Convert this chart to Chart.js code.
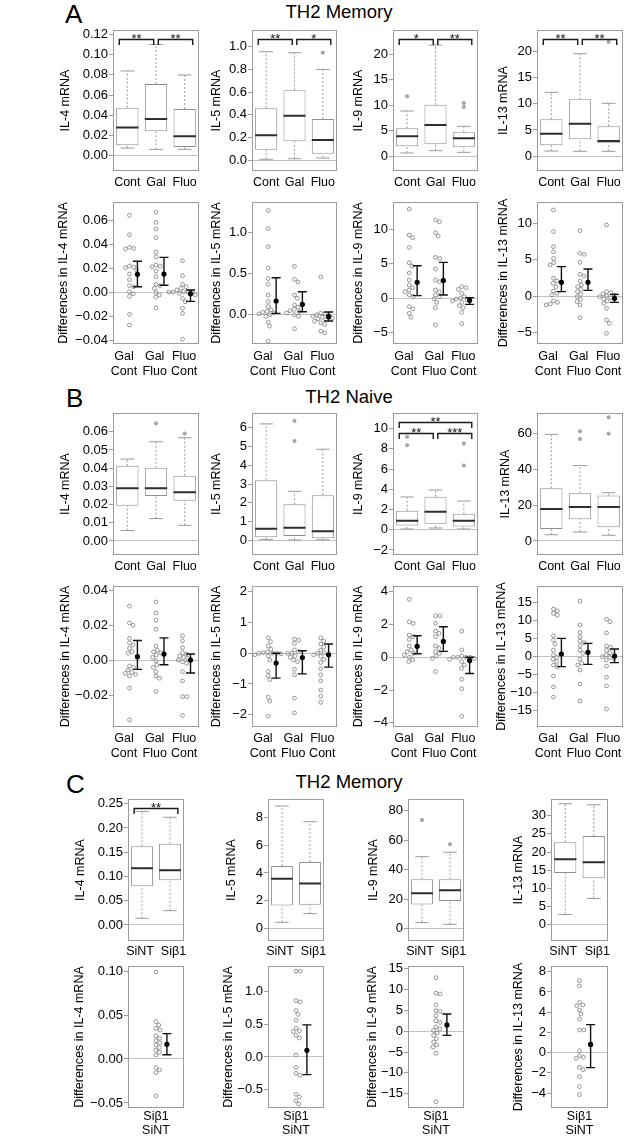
<!DOCTYPE html>
<html><head><meta charset="utf-8">
<script src="https://cdn.jsdelivr.net/npm/chart.js@4.4.1/dist/chart.umd.min.js"></script>
<style>
html,body{margin:0;padding:0;background:#fff;}
#fig{position:relative;width:640px;height:1140px;overflow:hidden;background:#fff;font-family:"Liberation Sans",Arial,Helvetica,sans-serif;}
.hd{position:absolute;line-height:1;white-space:nowrap;color:#000;}
.pn{position:absolute;}
</style></head><body><div id="fig"></div>
<script>
// ---------------- categories ----------------
const boxGroupsAB = ['Cont', 'Gal', 'Fluo'];
const boxGroupsC = ['SiNT', 'Si\u03b21'];
const diffGroupsAB = [['Gal', 'Cont'], ['Gal', 'Fluo'], ['Fluo', 'Cont']];
const diffGroupsC = [['Si\u03b21', 'SiNT']];

// ---------------- box plot stats: [whiskerLow, Q1, median, Q3, whiskerHigh] per group ----------------
const A_IL4 = [[0.0076, 0.0103, 0.028, 0.0475, 0.0838], [0.0063, 0.0241, 0.0363, 0.0709, 0.110], [0.0063, 0.0086, 0.0192, 0.0462, 0.0798]];
const A_IL5 = [[0.009, 0.093, 0.22, 0.458, 0.956], [0.014, 0.167, 0.393, 0.616, 0.947], [0.02, 0.058, 0.179, 0.364, 0.80]];
const A_IL9 = [[0.65, 1.96, 3.92, 5.49, 8.88], [1.1, 2.35, 6.14, 10.1, 21.8], [0.78, 1.76, 3.53, 4.7, 5.88]];
const A_IL13 = [[1.0, 2.09, 4.29, 7.02, 12.15], [0.95, 3.23, 6.19, 10.82, 19.47], [0.95, 2.47, 2.9, 5.69, 10.06]];
const B_IL4 = [[0.0057, 0.0194, 0.0289, 0.0413, 0.045], [0.0123, 0.0247, 0.0289, 0.0402, 0.0545], [0.0086, 0.0221, 0.0267, 0.0359, 0.0567]];
const B_IL5 = [[0.05, 0.16, 0.62, 3.2, 6.2], [0.02, 0.23, 0.67, 1.92, 2.61], [0.03, 0.11, 0.48, 2.4, 4.85]];
const B_IL9 = [[0.07, 0.43, 0.89, 1.88, 3.24], [0.17, 0.6, 1.79, 3.27, 3.93], [0.07, 0.33, 0.89, 1.59, 2.84]];
const B_IL13 = [[3.5, 6.7, 17.8, 29.35, 59.4], [5.0, 12.1, 18.9, 26.6, 42], [3.2, 7.6, 18.9, 25.3, 26.9]];
const C_IL4 = [[0.0137, 0.0797, 0.117, 0.162, 0.234], [0.0295, 0.092, 0.1126, 0.1676, 0.222]];
const C_IL5 = [[0.43, 1.64, 3.59, 4.51, 8.84], [1.06, 1.71, 3.23, 4.8, 7.71]];
const C_IL9 = [[4.1, 16.3, 24.0, 33.4, 48.8], [2.9, 18.8, 26.0, 33.4, 51.8]];
const C_IL13 = [[2.8, 14.2, 18.0, 22.7, 33.3], [7.2, 12.8, 17.2, 24.4, 33.0]];

// outliers: [group, value]
const A_IL5_out = [[3, 0.947]];
const A_IL9_out = [[1, 11.76], [3, 10.45], [3, 9.67]];
const A_IL13_out = [[3, 21.75]];
const B_IL4_out = [[2, 0.0646], [3, 0.059]];
const B_IL5_out = [[2, 6.36], [2, 5.29]];
const B_IL9_out = [[1, 9.19], [1, 8.36], [3, 8.53], [3, 6.35]];
const B_IL13_out = [[2, 61.1], [2, 56.8], [3, 68.9], [3, 59.8]];
const C_IL9_out = [[1, 73.7], [2, 57.2]];

// significance: [fromGroup, toGroup, label, tier]
const A_IL4_sig = [[1, 2, '**', 0], [2, 3, '**', 0]];
const A_IL5_sig = [[1, 2, '**', 0], [2, 3, '*', 0]];
const A_IL9_sig = [[1, 2, '*', 0], [2, 3, '**', 0]];
const A_IL13_sig = [[1, 2, '**', 0], [2, 3, '**', 0]];
const B_IL9_sig = [[1, 3, '**', 0], [1, 2, '**', 1], [2, 3, '***', 1]];
const C_IL4_sig = [[1, 2, '**', 0]];

// ---------------- paired differences (points per group), means and 95% CI ----------------
const A_dIL4 = [
  [0.0639, 0.0478, 0.0372, 0.0364, 0.0358, 0.0217, 0.0208, 0.0203, 0.0183, 0.015, 0.0103, 0.0053, 0.0044, 0.0003, -0.0014, -0.0036, -0.0186, -0.0275],
  [0.0664, 0.058, 0.0525, 0.0453, 0.0331, 0.0294, 0.0225, 0.0217, 0.0211, 0.0175, 0.0128, 0.0064, 0.0053, 0.0031, -0.0003, -0.0025, -0.0042, -0.0131],
  [0.0261, 0.0136, 0.0064, 0.0044, 0.0031, 0.0017, 0.0003, 0, 0, 0, 0, -0.0011, -0.0025, -0.0053, -0.0081, -0.0136, -0.0178, -0.0392]];
const A_dIL4_mean = [0.0148, 0.015, -0.0014], A_dIL4_lo = [0.0044, 0.0056, -0.0078], A_dIL4_hi = [0.0256, 0.0289, 0.0017];

const A_dIL5 = [
  [1.27, 1.05, 0.83, 0.57, 0.44, 0.37, 0.24, 0.16, 0.10, 0.06, 0.04, 0.03, 0.02, 0.01, 0.0, -0.02, -0.09, -0.14, -0.32],
  [0.59, 0.43, 0.40, 0.24, 0.2, 0.12, 0.09, 0.065, 0.05, 0.04, 0.02, 0.0, -0.02, -0.17],
  [0.46, 0.02, 0.01, 0.0, -0.01, -0.02, -0.03, -0.04, -0.05, -0.06, -0.08, -0.1, -0.12, -0.2, -0.22]];
const A_dIL5_mean = [0.167, 0.126, -0.024], A_dIL5_lo = [0.016, 0.037, -0.077], A_dIL5_hi = [0.451, 0.28, 0.033];

const A_dIL9 = [
  [12.93, 9.17, 8.78, 7.38, 5.16, 4.68, 3.67, 2.65, 1.93, 1.54, 1.2, 0.96, 0.48, 0.29, -1.2, -1.54, -2.17, -2.75],
  [11.34, 11.1, 9.5, 9.02, 5.93, 5.79, 4.24, 2.65, 2.41, 1.2, 0.96, 0.48, 0.24, -0.1, -0.58, -1.35, -3.86],
  [1.69, 1.54, 1.3, 0.72, 0.24, 0, -0.1, -0.24, -0.39, -0.58, -1.06, -1.35, -2.03, -3.67]];
const A_dIL9_mean = [2.32, 2.6, -0.29], A_dIL9_lo = [0.39, 0.48, -0.87], A_dIL9_hi = [4.73, 5.21, 0.1];

const A_dIL13 = [
  [11.83, 8.85, 6.79, 6.1, 5.18, 4.59, 4.27, 2.43, 2.06, 1.74, 1.28, 0.69, 0.37, 0.14, -0.69, -0.87, -1.1, -1.24],
  [8.99, 5.87, 5.73, 4.63, 2.98, 2.75, 2.06, 1.51, 1.28, 0.92, 0.6, 0.23, -0.09, -0.46, -0.78, -1.24, -2.98],
  [9.77, 0.6, 0.46, 0.28, 0.14, 0, -0.09, -0.23, -0.41, -0.69, -1.01, -1.7, -3.3, -3.76, -5.14]];
const A_dIL13_mean = [1.88, 1.88, -0.32], A_dIL13_lo = [0.6, 0.78, -0.87], A_dIL13_hi = [4.04, 3.72, 0.23];

const B_dIL4 = [
  [0.0308, 0.0213, 0.02, 0.0125, 0.01, 0.0087, 0.0068, 0.0049, 0.004, -0.0032, -0.004, -0.0055, -0.0068, -0.0074, -0.0079, -0.0089, -0.0158, -0.0338],
  [0.0332, 0.027, 0.0228, 0.0177, 0.0081, 0.0058, 0.0049, 0.0043, 0.003, 0.0017, -0.0002, -0.0026, -0.004, -0.0064, -0.0089, -0.0102, -0.0177],
  [0.014, 0.0111, 0.0072, 0.0043, 0.0036, 0.0025, 0.0017, 0.0011, 0.0002, -0.0008, -0.0017, -0.0064, -0.0117, -0.0206, -0.0206, -0.0313]];
const B_dIL4_mean = [0.0021, 0.0036, 0.0002], B_dIL4_lo = [-0.0051, -0.0025, -0.0072], B_dIL4_hi = [0.0113, 0.0128, 0.0036];

const B_dIL5 = [
  [0.5, 0.38, 0.24, 0.13, 0.05, 0.02, 0, 0, 0, -0.02, -0.05, -0.09, -0.22, -0.59, -0.73, -0.86, -1.43, -1.56, -2.05],
  [0.46, 0.43, 0.32, 0.11, 0.05, 0, 0, -0.09, -0.13, -0.22, -0.27, -0.52, -0.7, -1.46, -1.94],
  [0.5, 0.4, 0.3, 0.2, 0.1, 0.02, 0, -0.05, -0.1, -0.2, -0.3, -0.5, -0.7, -0.9, -1.2, -1.4, -1.6]];
const B_dIL5_mean = [-0.32, -0.14, -0.05], B_dIL5_lo = [-0.81, -0.67, -0.45], B_dIL5_hi = [0.0, 0.08, 0.3];

const B_dIL9 = [
  [3.54, 2.17, 2.07, 1.36, 1.26, 1.09, 0.69, 0.45, 0.34, 0.24, 0.14, 0, -0.16, -0.26],
  [2.53, 2.53, 2.07, 1.6, 1.46, 1.26, 0.69, 0.55, 0.34, 0.24, 0.08, -0.06, -0.87],
  [1.6, 0.45, 0.08, 0, 0, 0, 0, -0.06, -0.12, -0.26, -0.47, -0.67, -1.34, -1.92, -3.6]];
const B_dIL9_mean = [0.67, 0.97, -0.2], B_dIL9_lo = [0.22, 0.36, -0.99], B_dIL9_hi = [1.32, 1.86, 0];

const B_dIL13 = [
  [13.2, 12.7, 12, 11.5, 5.8, 4.6, 3.5, 1.8, 0.5, -0.2, -0.7, -1.4, -2.3, -2.8, -5.4, -8.4, -11.2],
  [15.4, 8.8, 6.7, 5.5, 4.3, 3.9, 3.0, 1.8, 0.9, -0.7, -1.8, -2.3, -3.7, -7.6, -12.3],
  [10.4, 9.7, 6.6, 3.0, 2.6, 1.8, 1.1, 0.5, 0, -0.2, -0.5, -0.9, -2.6, -5.7, -8.1, -14.5]];
const B_dIL13_mean = [0.74, 1.2, 0.18], B_dIL13_lo = [-2.77, -2.12, -1.66], B_dIL13_hi = [5.08, 3.69, 2.12];

const C_dIL4 = [[0.0989, 0.0424, 0.0386, 0.0348, 0.033, 0.0261, 0.0235, 0.0208, 0.0186, 0.0159, 0.0129, 0.0102, 0.0076, 0.0045, -0.0098, -0.0125, -0.0155, -0.042]];
const C_dIL4_mean = [0.0167], C_dIL4_lo = [0.0049], C_dIL4_hi = [0.0288];
const C_dIL5 = [[1.31, 1.31, 0.86, 0.84, 0.71, 0.65, 0.56, 0.44, 0.40, 0.39, 0.33, 0.29, 0.03, -0.16, -0.25, -0.28, -0.57, -0.61, -0.67, -0.72]];
const C_dIL5_mean = [0.102], C_dIL5_lo = [-0.27], C_dIL5_hi = [0.49];
const C_dIL9 = [[12.8, 9.1, 8.9, 6.3, 4.9, 4.7, 3.7, 2.5, 2.1, 1.0, 0.55, 0.16, -0.4, -1.0, -1.8, -2.6, -3.3, -3.8, -5.3, -16.9]];
const C_dIL9_mean = [1.5], C_dIL9_lo = [-1.0], C_dIL9_hi = [4.1];
const C_dIL13 = [[7.12, 6.59, 4.98, 4.71, 4.65, 4.22, 3.82, 3.33, 2.24, 2.24, 0.2, -0.3, -0.46, -0.56, -1.45, -1.68, -2.37, -3.36, -4.15]];
const C_dIL13_mean = [0.82], C_dIL13_lo = [-1.48], C_dIL13_hi = [2.77];

// ---------------- tick values ----------------
const t_A_IL4 = [0, 0.02, 0.04, 0.06, 0.08, 0.10, 0.12];
const t_A_IL5 = [0, 0.2, 0.4, 0.6, 0.8, 1.0];
const t_A_IL9 = [0, 5, 10, 15, 20];
const t_A_IL13 = [0, 5, 10, 15, 20];
const t_A_dIL4 = [-0.04, -0.02, 0, 0.02, 0.04, 0.06];
const t_A_dIL5 = [0, 0.5, 1.0];
const t_A_dIL9 = [-5, 0, 5, 10];
const t_A_dIL13 = [-5, 0, 5, 10];
const t_B_IL4 = [0, 0.01, 0.02, 0.03, 0.04, 0.05, 0.06];
const t_B_IL5 = [0, 1, 2, 3, 4, 5, 6];
const t_B_IL9 = [-2, 0, 2, 4, 6, 8, 10];
const t_B_IL13 = [0, 20, 40, 60];
const t_B_dIL4 = [-0.02, 0, 0.02, 0.04];
const t_B_dIL5 = [-2, -1, 0, 1, 2];
const t_B_dIL9 = [-4, -2, 0, 2, 4];
const t_B_dIL13 = [-15, -10, -5, 0, 5, 10, 15];
const t_C_IL4 = [0, 0.05, 0.10, 0.15, 0.20, 0.25];
const t_C_IL5 = [0, 2, 4, 6, 8];
const t_C_IL9 = [0, 20, 40, 60, 80];
const t_C_IL13 = [0, 5, 10, 15, 20, 25, 30];
const t_C_dIL4 = [-0.05, 0, 0.05, 0.10];
const t_C_dIL5 = [-0.5, 0, 0.5, 1.0];
const t_C_dIL9 = [-15, -10, -5, 0, 5, 10, 15];
const t_C_dIL13 = [-4, -2, 0, 2, 4, 6, 8];

// ---------------- layout & style ----------------
const FONT = '"Liberation Sans", Arial, Helvetica, sans-serif';
Chart.defaults.font.family = FONT;
Chart.defaults.font.size = 12.5;
Chart.defaults.color = '#000';
const FRAME = '#9c9c9c', BOXC = '#8e8e8e', WHC = '#9a9a9a', MEDC = '#2e2e2e', ZEROC = '#c2c2c2', DOTC = '#8a8a8a';
const L0 = 92, T0 = 12, R0 = 8, B0 = 46;
const CAP = 0.24, HALF = 0.39, MEANOFF = 0.3;
const TICKFONT = 13, TITLEFONT = 12.5;

// x positions of the category labels on each kind of axis
const labelPos3box = [1, 2, 3];
const labelPos2box = [0.93, 2.125];
const labelPos3dot = [0.795, 1.95, 3.06];
const labelPos1dot = [1];

const rows = {
  Abox: {top: 30, h: 141, pad: 4, lh: 1.2}, Adot: {top: 202, h: 142, pad: 5, lh: 1.2},
  Bbox: {top: 413, h: 142, pad: 4, lh: 1.2}, Bdot: {top: 586, h: 141, pad: 4, lh: 1.2},
  Cbox: {top: 799, h: 142, pad: 3, lh: 1.2}, Cdot: {top: 966, h: 142, pad: 2, lh: 1.12}
};
const colsAB = [[113, 86], [252, 85], [393, 85], [537, 86]];
const colsC = [[128, 56], [268, 56], [408, 56], [551, 57]];

const panels = [
  {kind: 'box', row: 'Abox', col: colsAB[0], tx: 46, title: 'IL-4 mRNA', labels: boxGroupsAB, stats: A_IL4, out: [], range: [-0.0151, 0.1243], ticks: t_A_IL4, dec: 2, sig: A_IL4_sig},
  {kind: 'box', row: 'Abox', col: colsAB[1], tx: 34, title: 'IL-5 mRNA', labels: boxGroupsAB, stats: A_IL5, out: A_IL5_out, range: [-0.094, 1.147], ticks: t_A_IL5, dec: 1, sig: A_IL5_sig},
  {kind: 'box', row: 'Abox', col: colsAB[2], tx: 33, title: 'IL-9 mRNA', labels: boxGroupsAB, stats: A_IL9, out: A_IL9_out, range: [-2.88, 24.76], ticks: t_A_IL9, dec: 0, sig: A_IL9_sig},
  {kind: 'box', row: 'Abox', col: colsAB[3], tx: 32, title: 'IL-13 mRNA', labels: boxGroupsAB, stats: A_IL13, out: A_IL13_out, range: [-2.79, 23.99], ticks: t_A_IL13, dec: 0, sig: A_IL13_sig},
  {kind: 'dot', row: 'Adot', col: colsAB[0], tx: 48, title: 'Differences in IL-4 mRNA', labels: diffGroupsAB, pts: A_dIL4, mean: A_dIL4_mean, lo: A_dIL4_lo, hi: A_dIL4_hi, range: [-0.0433, 0.075], ticks: t_A_dIL4, dec: 2},
  {kind: 'dot', row: 'Adot', col: colsAB[1], tx: 34, title: 'Differences in IL-5 mRNA', labels: diffGroupsAB, pts: A_dIL5, mean: A_dIL5_mean, lo: A_dIL5_lo, hi: A_dIL5_hi, range: [-0.357, 1.374], ticks: t_A_dIL5, dec: 1},
  {kind: 'dot', row: 'Adot', col: colsAB[2], tx: 33, title: 'Differences in IL-9 mRNA', labels: diffGroupsAB, pts: A_dIL9, mean: A_dIL9_mean, lo: A_dIL9_lo, hi: A_dIL9_hi, range: [-6.62, 13.96], ticks: t_A_dIL9, dec: 0},
  {kind: 'dot', row: 'Adot', col: colsAB[3], tx: 32, title: 'Differences in IL-13 mRNA', labels: diffGroupsAB, pts: A_dIL13, mean: A_dIL13_mean, lo: A_dIL13_lo, hi: A_dIL13_hi, range: [-6.6, 12.93], ticks: t_A_dIL13, dec: 0},
  {kind: 'box', row: 'Bbox', col: colsAB[0], tx: 46, title: 'IL-4 mRNA', labels: boxGroupsAB, stats: B_IL4, out: B_IL4_out, range: [-0.0077, 0.0703], ticks: t_B_IL4, dec: 2},
  {kind: 'box', row: 'Bbox', col: colsAB[1], tx: 34, title: 'IL-5 mRNA', labels: boxGroupsAB, stats: B_IL5, out: B_IL5_out, range: [-0.78, 6.78], ticks: t_B_IL5, dec: 0},
  {kind: 'box', row: 'Bbox', col: colsAB[2], tx: 33, title: 'IL-9 mRNA', labels: boxGroupsAB, stats: B_IL9, out: B_IL9_out, range: [-2.5, 11.55], ticks: t_B_IL9, dec: 0, sig: B_IL9_sig},
  {kind: 'box', row: 'Bbox', col: colsAB[3], tx: 30, title: 'IL-13 mRNA', labels: boxGroupsAB, stats: B_IL13, out: B_IL13_out, range: [-7.8, 71.3], ticks: t_B_IL13, dec: 0},
  {kind: 'dot', row: 'Bdot', col: colsAB[0], tx: 46, title: 'Differences in IL-4 mRNA', labels: diffGroupsAB, pts: B_dIL4, mean: B_dIL4_mean, lo: B_dIL4_lo, hi: B_dIL4_hi, range: [-0.0379, 0.0423], ticks: t_B_dIL4, dec: 2},
  {kind: 'dot', row: 'Bdot', col: colsAB[1], tx: 34, title: 'Differences in IL-5 mRNA', labels: diffGroupsAB, pts: B_dIL5, mean: B_dIL5_mean, lo: B_dIL5_lo, hi: B_dIL5_hi, range: [-2.4, 2.19], ticks: t_B_dIL5, dec: 0},
  {kind: 'dot', row: 'Bdot', col: colsAB[2], tx: 33, title: 'Differences in IL-9 mRNA', labels: diffGroupsAB, pts: B_dIL9, mean: B_dIL9_mean, lo: B_dIL9_lo, hi: B_dIL9_hi, range: [-4.25, 4.35], ticks: t_B_dIL9, dec: 0},
  {kind: 'dot', row: 'Bdot', col: colsAB[3], tx: 32, title: 'Differences in IL-13 mRNA', labels: diffGroupsAB, pts: B_dIL13, mean: B_dIL13_mean, lo: B_dIL13_lo, hi: B_dIL13_hi, range: [-19.5, 19.6], ticks: t_B_dIL13, dec: 0},
  {kind: 'box', row: 'Cbox', col: colsC[0], tx: 46, title: 'IL-4 mRNA', labels: boxGroupsC, stats: C_IL4, out: [], range: [-0.033, 0.2596], ticks: t_C_IL4, dec: 2, sig: C_IL4_sig},
  {kind: 'box', row: 'Cbox', col: colsC[1], tx: 35, title: 'IL-5 mRNA', labels: boxGroupsC, stats: C_IL5, out: [], range: [-0.92, 9.35], ticks: t_C_IL5, dec: 0},
  {kind: 'box', row: 'Cbox', col: colsC[2], tx: 33, title: 'IL-9 mRNA', labels: boxGroupsC, stats: C_IL9, out: C_IL9_out, range: [-8.4, 87.9], ticks: t_C_IL9, dec: 0},
  {kind: 'box', row: 'Cbox', col: colsC[3], tx: 31, title: 'IL-13 mRNA', labels: boxGroupsC, stats: C_IL13, out: [], range: [-4.5, 34.6], ticks: t_C_IL13, dec: 0},
  {kind: 'dot', row: 'Cdot', col: colsC[0], tx: 47, title: 'Differences in IL-4 mRNA', labels: diffGroupsC, pts: C_dIL4, mean: C_dIL4_mean, lo: C_dIL4_lo, hi: C_dIL4_hi, range: [-0.0557, 0.1057], ticks: t_C_dIL4, dec: 2},
  {kind: 'dot', row: 'Cdot', col: colsC[1], tx: 35, title: 'Differences in IL-5 mRNA', labels: diffGroupsC, pts: C_dIL5, mean: C_dIL5_mean, lo: C_dIL5_lo, hi: C_dIL5_hi, range: [-0.78, 1.39], ticks: t_C_dIL5, dec: 1},
  {kind: 'dot', row: 'Cdot', col: colsC[2], tx: 33, title: 'Differences in IL-9 mRNA', labels: diffGroupsC, pts: C_dIL9, mean: C_dIL9_mean, lo: C_dIL9_lo, hi: C_dIL9_hi, range: [-18.4, 15.6], ticks: t_C_dIL9, dec: 0},
  {kind: 'dot', row: 'Cdot', col: colsC[3], tx: 31, title: 'Differences in IL-13 mRNA', labels: diffGroupsC, pts: C_dIL13, mean: C_dIL13_mean, lo: C_dIL13_lo, hi: C_dIL13_hi, range: [-5.47, 8.57], ticks: t_C_dIL13, dec: 0}
];

const headings = [
  {text: 'A', left: 65, top: 1, size: 26},
  {text: 'TH2 Memory', cx: 339, top: 2.6, size: 18.5},
  {text: 'B', left: 66, top: 384.7, size: 26},
  {text: 'TH2 Naive', cx: 349, top: 387.6, size: 18.5},
  {text: 'C', left: 66, top: 770.7, size: 26},
  {text: 'TH2 Memory', cx: 349, top: 772.6, size: 18.5}
];

// ---------------- helpers ----------------
function fmt(v, dec) {
  const s = Math.abs(v).toFixed(dec);
  return (v < 0 && Number(s) !== 0 ? '\u2212' : '') + s;
}

// beeswarm offsets (px) so that circles do not overlap
function swarm(vals, pxY, D) {
  const order = vals.map((v, i) => i).sort((a, b) => vals[b] - vals[a]);
  const placed = [], out = new Array(vals.length);
  for (const i of order) {
    const y = vals[i] * pxY;
    const forb = [];
    for (const p of placed) {
      const dy = Math.abs(p.y - y);
      if (dy < D) { const dx = Math.sqrt(D * D - dy * dy); forb.push([p.x - dx, p.x + dx]); }
    }
    const cands = [0];
    forb.forEach(f => cands.push(f[0], f[1]));
    cands.sort((a, b) => (Math.abs(a) - Math.abs(b)) || (b - a));
    let x = 0;
    for (const c of cands) {
      if (forb.every(f => c <= f[0] + 1e-6 || c >= f[1] - 1e-6)) { x = c; break; }
    }
    placed.push({x, y});
    out[i] = x;
  }
  return out;
}

const framePlugin = {
  id: 'frame',
  afterDraw(chart) {
    const a = chart.chartArea, c = chart.ctx;
    c.save();
    c.strokeStyle = FRAME; c.lineWidth = 1;
    c.strokeRect(Math.round(a.left) + 0.5, Math.round(a.top) + 0.5, Math.round(a.right - a.left) - 1, Math.round(a.bottom - a.top) - 1);
    c.restore();
  }
};

function sigPlugin(items, n) {
  return {
    id: 'sig',
    afterDatasetsDraw(chart) {
      const xs = chart.scales.x, a = chart.chartArea, c = chart.ctx;
      c.save();
      c.strokeStyle = '#1a1a1a'; c.fillStyle = '#111'; c.lineWidth = 1.4;
      c.font = '13px ' + FONT; c.textAlign = 'center'; c.textBaseline = 'alphabetic';
      items.forEach(([g1, g2, txt, tier]) => {
        const x1 = xs.getPixelForValue(g1 === 1 ? g1 - 0.28 : g1 + 0.08);
        const x2 = xs.getPixelForValue(g2 === n ? g2 + 0.28 : g2 - 0.08);
        const y = Math.round(a.top + 8.5 + tier * 11) + 0.5;
        c.beginPath();
        c.moveTo(x1, y + 5.5); c.lineTo(x1, y); c.lineTo(x2, y); c.lineTo(x2, y + 5.5);
        c.stroke();
        c.fillText(txt, (x1 + x2) / 2, y + 3.5);
      });
      c.restore();
    }
  };
}

function boxDatasets(p) {
  const whisk = [], caps = [], meds = [], boxes = [], outs = [];
  p.stats.forEach((s, i) => {
    const x = i + 1, [lo, q1, md, q3, hi] = s;
    whisk.push({x, y: lo}, {x, y: q1}, {x, y: null}, {x, y: q3}, {x, y: hi}, {x, y: null});
    caps.push({x: x - CAP, y: lo}, {x: x + CAP, y: lo}, {x, y: null}, {x: x - CAP, y: hi}, {x: x + CAP, y: hi}, {x, y: null});
    meds.push({x: x - HALF, y: md}, {x: x + HALF, y: md}, {x, y: null});
    boxes.push({x, y: [q1, q3]});
  });
  (p.out || []).forEach(([g, v]) => outs.push({x: g, y: v}));
  return [
    {type: 'scatter', data: outs, pointRadius: 1.7, pointBackgroundColor: '#a5a5a5', pointBorderColor: '#999', pointBorderWidth: 0.6},
    {type: 'line', data: meds, borderColor: MEDC, borderWidth: 2, pointRadius: 0, spanGaps: false, borderCapStyle: 'butt'},
    {type: 'line', data: caps, borderColor: WHC, borderWidth: 1, pointRadius: 0, spanGaps: false},
    {type: 'bar', data: boxes, backgroundColor: '#fff', borderColor: BOXC, borderWidth: 1, borderSkipped: false, barPercentage: 0.78, categoryPercentage: 1},
    {type: 'line', data: whisk, borderColor: WHC, borderWidth: 1, borderDash: [2, 2], pointRadius: 0, spanGaps: false}
  ];
}

function dotDatasets(p, xmin, xmax, h) {
  const pxX = p.col[1] / (xmax - xmin), pxY = h / (p.range[1] - p.range[0]);
  const pts = [];
  p.pts.forEach((vals, gi) => {
    const off = swarm(vals, pxY, 4.3);
    vals.forEach((v, k) => pts.push({x: gi + 1 + off[k] / pxX, y: v}));
  });
  const cap = 4.5 / pxX;
  const means = [], eb = [];
  p.mean.forEach((m, gi) => {
    const x = gi + 1 + MEANOFF, lo = p.lo[gi], hi = p.hi[gi];
    means.push({x, y: m});
    eb.push({x, y: lo}, {x, y: hi}, {x, y: null},
            {x: x - cap, y: hi}, {x: x + cap, y: hi}, {x, y: null},
            {x: x - cap, y: lo}, {x: x + cap, y: lo}, {x, y: null});
  });
  return [
    {type: 'scatter', data: means, pointRadius: 2.6, pointBackgroundColor: '#000', pointBorderColor: '#000', pointBorderWidth: 0},
    {type: 'line', data: eb, borderColor: '#111', borderWidth: 1.4, pointRadius: 0, spanGaps: false},
    {type: 'scatter', data: pts, pointRadius: 1.9, pointBackgroundColor: 'rgba(255,255,255,0)', pointBorderColor: DOTC, pointBorderWidth: 0.9}
  ];
}

const fig = document.getElementById('fig');
const measureCtx = document.createElement('canvas').getContext('2d');
measureCtx.font = TICKFONT + 'px ' + FONT;

headings.forEach(hd => {
  const d = document.createElement('div');
  d.className = 'hd';
  d.textContent = hd.text;
  d.style.fontSize = hd.size + 'px';
  d.style.top = hd.top + 'px';
  if (hd.cx !== undefined) { d.style.left = (hd.cx - 150) + 'px'; d.style.width = '300px'; d.style.textAlign = 'center'; }
  else d.style.left = hd.left + 'px';
  fig.appendChild(d);
});

function makePanel(p) {
  const r = rows[p.row];
  const isBox = p.kind === 'box';
  const n = p.labels.length;
  const xmin = isBox ? 0.5 : (n === 1 ? 0.23 : 0.38);
  const xmax = isBox ? n + 0.5 : (n === 1 ? 1.77 : n + 0.62);
  const lpos = isBox ? (n === 3 ? labelPos3box : labelPos2box) : (n === 3 ? labelPos3dot : labelPos1dot);
  const fw = p.col[1], fh = r.h;
  const cw = L0 + fw + R0, ch = T0 + fh + B0;
  const div = document.createElement('div');
  div.className = 'pn';
  div.style.left = (p.col[0] - L0) + 'px';
  div.style.top = (r.top - T0) + 'px';
  div.style.width = cw + 'px'; div.style.height = ch + 'px';
  const cv = document.createElement('canvas');
  cv.width = cw; cv.height = ch;
  cv.style.width = cw + 'px'; cv.style.height = ch + 'px';
  div.appendChild(cv);
  fig.appendChild(div);

  // place the y title centre p.tx px left of the frame
  const labW = Math.max(...p.ticks.map(v => measureCtx.measureText(fmt(v, p.dec)).width));
  const titlePad = Math.max(0, p.tx - labW - 4 - 1 - TITLEFONT * 1.2 / 2);

  const datasets = isBox ? boxDatasets(p) : dotDatasets(p, xmin, xmax, fh);
  const cfg = {
    type: 'scatter',
    data: {datasets},
    options: {
      responsive: false, animation: false, events: [],
      layout: {padding: {left: 0, top: T0, right: R0, bottom: 0}},
      plugins: {legend: {display: false}, tooltip: {enabled: false}},
      scales: {
        x: {
          type: 'linear', position: 'bottom', min: xmin, max: xmax, offset: false,
          grid: {display: false, drawTicks: false}, border: {display: false},
          afterBuildTicks: s => { s.ticks = lpos.map(v => ({value: v})); },
          afterFit: s => { s.height = B0; },
          ticks: {autoSkip: false, maxRotation: 0, minRotation: 0, padding: r.pad, color: '#000',
                  font: {size: 12.5, lineHeight: r.lh},
                  callback: (v, i) => p.labels[i]}
        },
        y: {
          type: 'linear', position: 'left', min: p.range[0], max: p.range[1],
          afterBuildTicks: s => { s.ticks = p.ticks.map(v => ({value: v})); },
          grid: {drawOnChartArea: true, drawTicks: true, tickLength: 4, tickColor: FRAME, lineWidth: 1,
                 color: c => (c.tick && Math.abs(c.tick.value) < 1e-12) ? ZEROC : 'rgba(0,0,0,0)'},
          border: {display: false},
          ticks: {autoSkip: false, padding: 1, color: '#000', font: {size: TICKFONT}, callback: v => fmt(v, p.dec)},
          title: {display: true, text: p.title, color: '#000', padding: {top: 0, bottom: titlePad}, font: {size: TITLEFONT}}
        }
      }
    },
    plugins: [framePlugin].concat(p.sig ? [sigPlugin(p.sig, n)] : [])
  };
  const chart = new Chart(cv.getContext('2d'), cfg);
  const yw = chart.scales.y.width;
  chart.options.layout.padding = {left: L0 - yw, top: T0, right: R0, bottom: 0};
  chart.update('none');
}

panels.forEach(makePanel);
</script></body></html>
